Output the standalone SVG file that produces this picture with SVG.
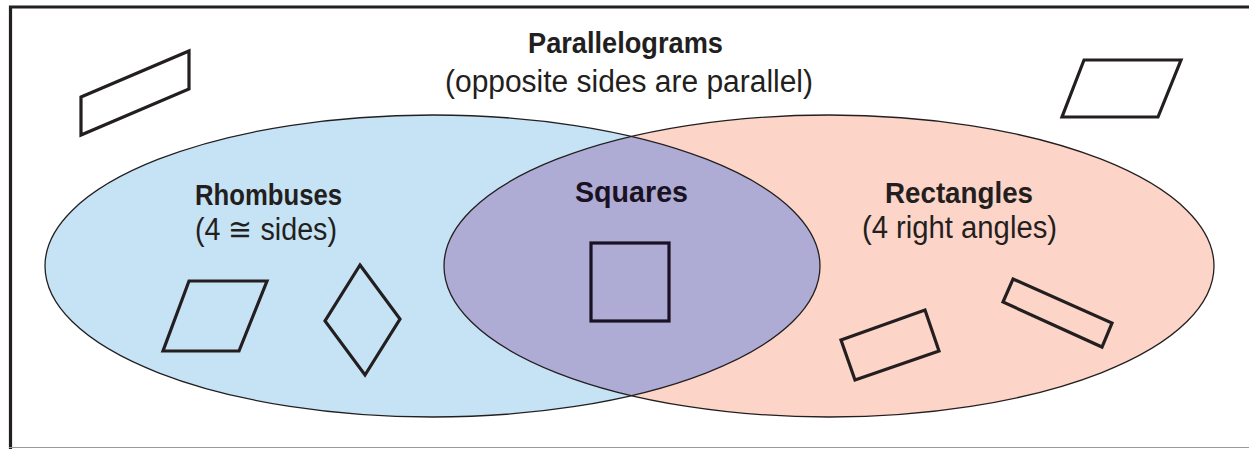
<svg xmlns="http://www.w3.org/2000/svg" width="1249" height="449" viewBox="0 0 1249 449">
<style>
.title{font-family:"Liberation Sans Narrow","Liberation Sans",Arial,sans-serif;font-weight:bold;font-size:30px;fill:#231f20;text-anchor:start}
.sub{font-family:"Liberation Sans Narrow","Liberation Sans",Arial,sans-serif;font-size:31px;fill:#231f20;text-anchor:start}
.shape{fill:none;stroke:#231f20;stroke-width:3.2;stroke-linejoin:miter}
.outline{fill:none;stroke:#231f20;stroke-width:1.3}
</style>
<defs>
<clipPath id="clipLeft"><ellipse cx="432.5" cy="266" rx="387.5" ry="151"/></clipPath>
</defs>
<rect x="0" y="0" width="1249" height="449" fill="#ffffff"/>
<g id="frame">
<path d="M10.5 449 V7 H1249" fill="none" stroke="#231f20" stroke-width="3.2"/>
<line x1="9" y1="447.5" x2="1249" y2="447.5" stroke="#9a9a9a" stroke-width="1"/>
</g>
<g id="sets">
<ellipse id="rhombusesSet" cx="432.5" cy="266" rx="387.5" ry="151" fill="#c6e3f5"/>
<ellipse id="rectanglesSet" cx="829" cy="266" rx="385" ry="151" fill="#fdd4c8"/>
<ellipse id="squaresSet" cx="829" cy="266" rx="385" ry="151" fill="#aeabd5" clip-path="url(#clipLeft)"/>
<ellipse class="outline" cx="432.5" cy="266" rx="387.5" ry="151"/>
<ellipse class="outline" cx="829" cy="266" rx="385" ry="151"/>
</g>
<g id="parallelograms">
<text class="title" x="528" y="53" textLength="195" lengthAdjust="spacingAndGlyphs">Parallelograms</text>
<text class="sub" x="445" y="92" textLength="368" lengthAdjust="spacingAndGlyphs">(opposite sides are parallel)</text>
<polygon class="shape" points="81,97 189,51 189,89 81,135"/>
<polygon class="shape" points="1084,60 1181,60 1158,117 1062,117"/>
</g>
<g id="rhombuses">
<text class="title" x="195" y="205" textLength="147" lengthAdjust="spacingAndGlyphs">Rhombuses</text>
<text class="sub" x="195" y="240" textLength="142" lengthAdjust="spacingAndGlyphs">(4 ≅ sides)</text>
<polygon class="shape" points="189,281 267,281 239,351 163,351"/>
<polygon class="shape" points="360,265 400,319 365,375 325,321"/>
</g>
<g id="squares">
<text class="title" x="575" y="202" textLength="113" lengthAdjust="spacingAndGlyphs" style="fill:#1a1222">Squares</text>
<rect class="shape" x="591" y="243" width="78" height="78" style="stroke:#1a1222"/>
</g>
<g id="rectangles">
<text class="title" x="885" y="203" textLength="148" lengthAdjust="spacingAndGlyphs">Rectangles</text>
<text class="sub" x="862" y="238" textLength="195" lengthAdjust="spacingAndGlyphs">(4 right angles)</text>
<polygon class="shape" points="841,340 925,310 939,351 855,380"/>
<polygon class="shape" points="1013,279 1112,323 1102,347 1003,302"/>
</g>
<g id="connectors"></g>
</svg>
